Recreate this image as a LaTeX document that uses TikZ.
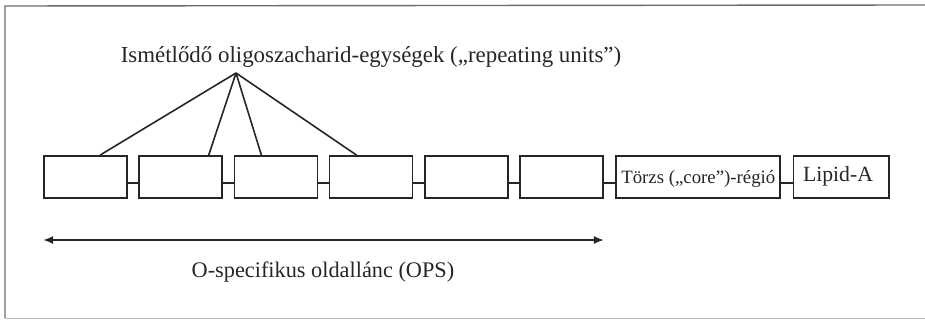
\documentclass[tikz,border=0pt]{standalone}
\usepackage{fontspec}
\setmainfont{Liberation Serif}
\usetikzlibrary{arrows.meta}

\definecolor{ink}{gray}{0.15}
\definecolor{framegray}{gray}{0.42}

\tikzset{
  unitbox/.style={draw=ink, line width=1.7pt, fill=white, inner sep=0pt,
    minimum width=83pt, minimum height=42pt},
  link/.style={draw=ink, line width=1.7pt},
  fanline/.style={draw=ink, line width=1.6pt},
  label/.style={text=ink, inner sep=0pt, anchor=base}
}

\begin{document}
\begin{tikzpicture}[x=1pt, y=-1pt]
  \useasboundingbox (0,0) rectangle (925,320);

  % outer frame (open on the right)
  \draw[framegray, line width=1.4pt] (925,5) -- (5,6) -- (5,318);
  \draw[framegray!50, line width=1pt] (5,318) -- (925,318);

  % chain of repeating units, core region and lipid A
  \foreach \i in {1,...,6} {
    \node[unitbox] (b\i) at ({85.5+95.2*(\i-1)},177) {};
  }
  \node[unitbox, minimum width=164.3pt] (core) at (697.9,177) {};
  \node[unitbox, minimum width=95.7pt] (lipid) at (841.2,177) {};

  \node[label, font=\fontsize{18.8}{20}\selectfont] (coretxt) at (698.3,183.3) {Törzs („core”)-régió};
  \node[label, font=\fontsize{21.7}{24}\selectfont] (lipidtxt) at (838,181.7) {Lipid-A};

  % short links between neighbouring boxes
  \foreach \a/\b in {b1/b2,b2/b3,b3/b4,b4/b5,b5/b6,b6/core,core/lipid} {
    \draw[link] ([yshift=-6pt]\a.east) -- ([yshift=-6pt]\b.west);
  }

  % heading with the fan of lines to the repeating units
  \node[label, font=\fontsize{22.9}{26}\selectfont] (title) at (371,63)
    {Ismétlődő oligoszacharid-egységek („repeating units”)};
  \coordinate (apex) at (236,73);
  \draw[fanline] (apex) -- ([xshift=14.5pt]b1.north);
  \draw[fanline] (apex) -- ([xshift=28pt]b2.north);
  \draw[fanline] (apex) -- ([xshift=-14.5pt]b3.north);
  \draw[fanline] (apex) -- ([xshift=-14.5pt]b4.north);

  % extent of the O-specific side chain
  \coordinate (opsL) at (b1.west |- 0,240);
  \coordinate (opsR) at (b6.east |- 0,240);
  \draw[draw=ink, line width=1.6pt, {Latex[length=10pt,width=8pt]}-{Latex[length=10pt,width=8pt]}] (opsL) -- (opsR);
  \node[label, font=\fontsize{22.3}{25}\selectfont] (ops) at (323,277.7) {O-specifikus oldallánc (OPS)};
\end{tikzpicture}
\end{document}
